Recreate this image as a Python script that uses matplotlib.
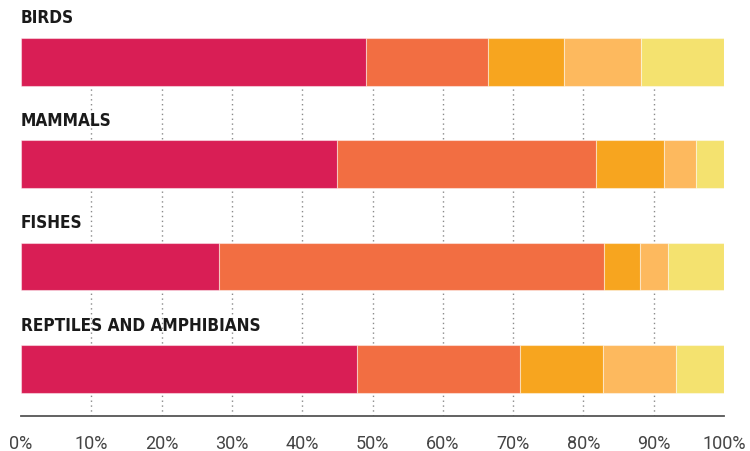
import matplotlib
matplotlib.use("Agg")
import matplotlib.pyplot as plt
from matplotlib import font_manager
import numpy as np

categories = ["BIRDS", "MAMMALS", "FISHES", "REPTILES AND AMPHIBIANS"]
seg1 = [49.1, 45.0, 28.1, 47.8]
seg2 = [17.3, 36.8, 54.9, 23.2]
seg3 = [10.9, 9.7, 5.0, 11.8]
seg4 = [10.9, 4.5, 4.1, 10.4]
seg5 = [11.8, 4.0, 7.9, 6.8]
segments = [seg1, seg2, seg3, seg4, seg5]
colors = ["#D91E55", "#F26E42", "#F7A51F", "#FDB95E", "#F4E26F"]
tick_values = [0, 10, 20, 30, 40, 50, 60, 70, 80, 90, 100]
tick_labels = [f"{v}%" for v in tick_values]

STRETCH = {"ultra-condensed": 100, "extra-condensed": 200, "condensed": 300,
           "semi-condensed": 400, "normal": 500}
WEIGHT = {"normal": 400, "regular": 400, "medium": 500, "semibold": 600,
          "demibold": 600, "bold": 700, "extra bold": 800, "black": 900}


def num(v, table, default):
    if isinstance(v, (int, float)):
        return v
    return table.get(str(v).lower(), default)


best = None
best_key = None
for f in font_manager.fontManager.ttflist:
    if "serif" in f.name.lower() and "sans" not in f.name.lower():
        continue
    if "mono" in f.name.lower() or "cjk" in f.name.lower():
        continue
    s = num(f.stretch, STRETCH, 500)
    if "narrow" in f.name.lower() or "condensed" in f.name.lower():
        s = min(s, 300)
    w = num(f.weight, WEIGHT, 400)
    if s >= 500 or w < 600 or w > 800:
        continue
    key = (s, abs(w - 700))
    if best_key is None or key < best_key:
        best, best_key = f, key

if best is not None:
    label_props = font_manager.FontProperties(fname=best.fname)
else:
    label_props = font_manager.FontProperties(family=["Roboto", "DejaVu Sans"], weight="bold")

fig = plt.figure(figsize=(7.5, 4.52), dpi=100)
ax = fig.add_axes([21/750, 1-417/452, 703/750, 378/452])

bar_h = 0.465
y = np.arange(len(categories))
left = np.zeros(len(categories))
for vals, c in zip(segments, colors):
    ax.barh(y, vals, left=left, height=bar_h, color=c, edgecolor=(1, 1, 1, 0.45),
            linewidth=0.8, zorder=3)
    left += np.array(vals)

ax.set_xlim(0, 100)
ax.set_ylim(3 + 0.46, -0.232)

for v in tick_values[1:-1]:
    ax.axvline(v, color="#8a8a8a", linestyle=(0, (1, 2.5)), linewidth=1.0, zorder=1)

texts = []
for i, name in enumerate(categories):
    t = ax.text(0, i - bar_h/2 - 0.2, name, ha="left", va="center",
                fontproperties=label_props, color="#1a1a1a", clip_on=False)
    t.set_fontsize(18)
    texts.append(t)

# scale label size so the longest label is close to the reference width
fig.canvas.draw()
r = fig.canvas.get_renderer()
w = texts[-1].get_window_extent(r).width
size = min(18, 18 * 240 / w)
for t in texts:
    t.set_fontsize(size)

for s in ["top", "right", "left"]:
    ax.spines[s].set_visible(False)
ax.spines["bottom"].set_color("#555555")
ax.spines["bottom"].set_linewidth(1.3)
ax.set_yticks([])
ax.set_xticks(tick_values)
ax.set_xticklabels(tick_labels, fontsize=13, color="#444444", family=["Roboto", "DejaVu Sans"])
ax.tick_params(axis="x", length=0, pad=13)

fig.savefig("out.png", dpi=100)
